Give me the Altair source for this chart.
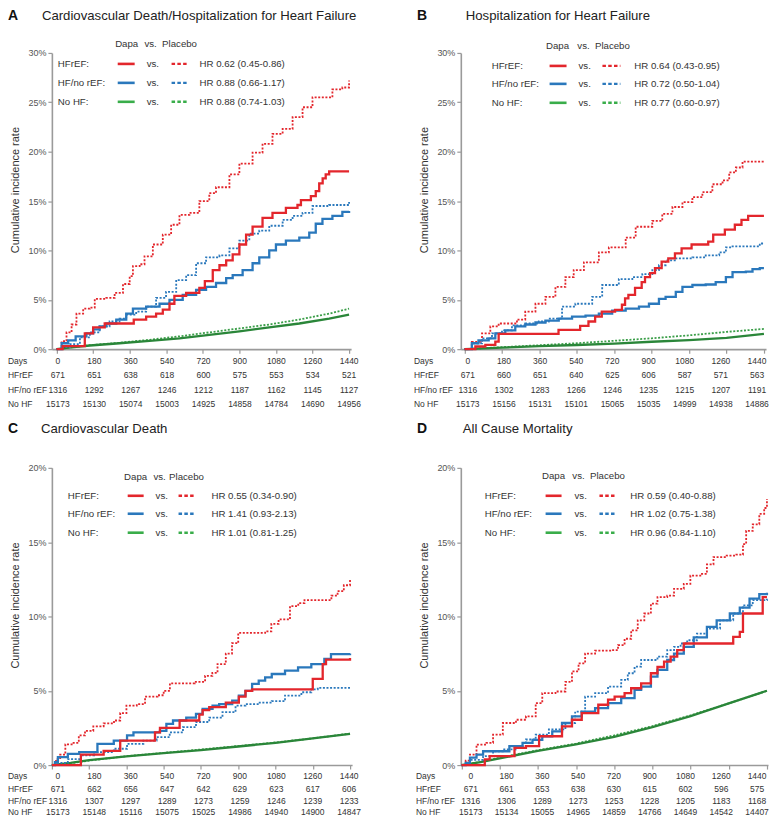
import altair as alt
import pandas as pd

# ---------------- data ----------------
DAY_TICKS = [0, 180, 360, 540, 720, 900, 1080, 1260, 1440]

# Panel A: CV death / hospitalization for HF  (day, cumulative %)
A_HFREF_DAPA = [(0,0),(30,0.3),(139,1.6),(180,2.2),(237,2.6),(380,3.0),(441,3.3),(490,3.6),(523,4.0),(556,4.6),(580,5.4),(638,5.7),(703,6.2),(730,6.9),(769,8.0),(802,8.5),(835,9.0),(867,9.6),(900,10.6),(933,11.6),(965,12.4),(1014,13.3),(1063,13.8),(1129,14.3),(1186,14.6),(1203,15.1),(1252,15.5),(1276,16.0),(1293,16.8),(1310,17.3),(1325,17.7),(1342,18.0),(1440,18.0)]
A_HFREF_PLAC = [(0,0),(25,0.8),(49,1.7),(74,2.5),(98,3.6),(131,4.1),(164,4.2),(188,5.1),(245,5.2),(286,5.7),(327,6.6),(360,7.4),(376,8.4),(409,8.6),(433,9.4),(474,10.6),(523,11.6),(564,12.6),(605,13.6),(654,13.8),(703,15.0),(752,15.8),(785,16.4),(851,17.7),(900,18.8),(965,19.9),(1014,20.8),(1063,21.8),(1113,22.3),(1162,23.5),(1211,24.5),(1260,25.5),(1317,25.5),(1358,26.3),(1407,26.5),(1440,27.2)]
A_HFNO_DAPA = [(0,0),(25,0.6),(57,0.9),(94,1.3),(147,1.6),(180,2.0),(212,2.3),(245,2.6),(294,3.0),(343,3.6),(376,4.1),(441,4.3),(507,4.6),(556,5.0),(621,5.5),(687,6.0),(736,6.3),(785,6.7),(835,7.2),(867,7.5),(916,8.0),(965,8.7),(998,9.3),(1047,10.0),(1080,10.6),(1129,11.0),(1195,11.3),(1244,11.8),(1276,12.7),(1309,13.2),(1358,13.5),(1407,13.9),(1440,14.0)]
A_HFNO_PLAC = [(0,0),(25,0.2),(66,0.5),(115,1.2),(164,1.7),(212,2.3),(261,2.8),(310,3.1),(343,3.5),(392,3.8),(441,4.3),(490,5.2),(539,5.8),(589,7.0),(638,7.5),(687,8.7),(736,9.3),(802,9.5),(851,10.2),(900,11.0),(949,11.7),(998,12.0),(1047,12.5),(1113,13.1),(1162,13.5),(1211,13.8),(1260,14.5),(1342,14.6),(1440,14.9)]
A_NOHF_DAPA = [(0,0),(60,0.15),(164,0.37),(310,0.6),(458,0.84),(605,1.1),(752,1.45),(900,1.8),(1047,2.2),(1195,2.6),(1342,3.1),(1440,3.5)]
A_NOHF_PLAC = [(0,0),(60,0.15),(164,0.4),(310,0.65),(458,0.95),(605,1.3),(752,1.7),(900,2.1),(1047,2.5),(1195,3.0),(1342,3.6),(1440,4.1)]

# Panel B: hospitalization for HF
B_HFREF_DAPA = [(0,0),(52,0.27),(100,0.44),(148,0.77),(164,1.55),(443,1.55),(452,1.95),(556,2.36),(596,2.8),(628,3.3),(660,3.8),(724,3.97),(757,4.5),(772,5.15),(788,5.5),(820,6.2),(852,6.8),(868,7.3),(892,7.7),(916,8.2),(948,8.86),(980,9.2),(1012,9.7),(1044,10.2),(1092,10.6),(1172,10.9),(1196,11.6),(1252,12.1),(1300,12.6),(1332,13.1),(1364,13.5),(1440,13.5)]
B_HFREF_PLAC = [(0,0),(35,0.74),(84,1.6),(124,2.3),(164,2.6),(252,3.0),(292,3.8),(341,4.6),(389,5.3),(437,6.3),(485,7.3),(525,8.0),(574,8.8),(646,9.8),(694,10.3),(775,11.3),(823,12.4),(903,13.0),(951,13.7),(1000,14.4),(1048,14.9),(1096,15.4),(1144,15.9),(1192,16.7),(1241,17.1),(1273,17.9),(1305,18.4),(1337,19.0),(1440,19.0)]
B_HFNO_DAPA = [(0,0),(35,0.6),(67,0.9),(116,1.1),(148,1.6),(196,1.9),(244,2.3),(292,2.5),(341,2.7),(389,2.9),(453,3.1),(517,3.3),(582,3.4),(646,3.6),(710,3.9),(775,4.1),(839,4.3),(887,4.6),(935,5.1),(967,5.3),(1016,5.8),(1048,6.3),(1096,6.5),(1160,6.55),(1208,6.8),(1257,7.3),(1289,7.8),(1353,7.85),(1385,8.1),(1420,8.2),(1440,8.2)]
B_HFNO_PLAC = [(0,0),(35,0.6),(84,1.1),(132,1.6),(180,1.9),(228,2.4),(292,2.6),(357,2.8),(405,3.1),(469,4.3),(533,4.6),(614,5.3),(662,6.5),(742,7.1),(807,7.3),(855,7.6),(903,8.0),(935,8.5),(967,9.0),(1016,9.2),(1096,9.3),(1160,9.5),(1225,9.8),(1257,10.3),(1289,10.4),(1420,10.7),(1440,10.7)]
B_NOHF_DAPA = [(0,0),(180,0.15),(360,0.3),(540,0.42),(720,0.57),(900,0.75),(1080,0.92),(1260,1.15),(1440,1.55)]
B_NOHF_PLAC = [(0,0),(180,0.2),(360,0.4),(540,0.6),(720,0.85),(900,1.1),(1080,1.4),(1260,1.75),(1440,2.05)]

# Panel C: cardiovascular death
C_HFREF_DAPA = [(0,0),(140,0.7),(250,0.95),(330,1.65),(498,2.2),(522,2.5),(617,3.0),(712,3.4),(728,3.7),(760,3.9),(840,4.2),(903,4.6),(935,5.0),(967,5.1),(1260,5.8),(1308,6.8),(1324,7.1),(1440,7.2)]
C_HFREF_PLAC = [(0,0),(20,0.4),(40,0.7),(65,1.4),(100,1.5),(130,2.0),(160,2.3),(200,2.6),(250,2.8),(300,3.0),(330,3.5),(360,4.0),(410,4.1),(450,4.6),(510,4.7),(540,5.0),(570,5.5),(690,5.6),(740,6.0),(775,6.2),(800,6.8),(840,7.5),(870,8.2),(900,8.9),(1030,9.0),(1060,9.5),(1095,9.8),(1150,10.7),(1190,10.9),(1220,11.1),(1330,11.1),(1350,11.4),(1380,11.7),(1410,12.1),(1440,12.5)]
C_HFNO_DAPA = [(0,0),(15,0.2),(29,0.54),(77,0.76),(132,0.87),(220,1.43),(299,1.65),(363,2.0),(394,2.2),(522,2.3),(553,2.77),(585,3.0),(649,3.2),(696,3.45),(728,3.78),(776,4.0),(808,4.1),(871,4.34),(903,4.68),(935,5.0),(967,5.46),(999,5.68),(1030,5.9),(1062,6.13),(1126,6.35),(1189,6.58),(1253,6.8),(1316,7.14),(1348,7.47),(1440,7.5)]
C_HFNO_PLAC = [(0,0),(20,0.15),(77,0.4),(140,0.65),(204,0.87),(299,1.1),(363,1.43),(442,1.65),(506,1.88),(569,2.2),(633,2.55),(696,2.9),(760,3.2),(824,3.56),(887,4.0),(935,4.1),(999,4.2),(1062,4.3),(1126,4.68),(1205,4.9),(1253,5.1),(1284,5.2),(1440,5.2)]
C_NOHF_DAPA = [(0,0),(90,0.15),(180,0.33),(360,0.58),(540,0.8),(720,1.0),(900,1.25),(1080,1.5),(1260,1.8),(1440,2.1)]
C_NOHF_PLAC = [(0,0),(90,0.12),(180,0.3),(360,0.6),(540,0.82),(720,1.05),(900,1.28),(1080,1.52),(1260,1.8),(1440,2.12)]

# Panel D: all cause mortality
D_HFREF_DAPA = [(0,0),(110,0.38),(133,0.6),(250,1.16),(304,1.27),(366,1.94),(474,2.6),(521,3.05),(567,3.5),(645,4.06),(691,4.4),(722,4.6),(769,4.84),(800,5.17),(847,5.5),(893,6.18),(924,6.6),(955,6.96),(986,7.3),(1017,7.74),(1048,8.18),(1281,8.63),(1312,8.96),(1327,10.2),(1420,11.3),(1440,11.3)]
D_HFREF_PLAC = [(0,0),(20,0.3),(40,0.7),(71,1.38),(118,1.5),(149,2.05),(195,2.83),(257,3.05),(304,3.28),(350,4.17),(381,4.84),(443,4.95),(490,5.6),(521,6.3),(552,6.85),(583,7.5),(630,7.7),(707,7.74),(738,8.07),(769,8.5),(800,9.07),(831,9.74),(862,10.2),(893,10.86),(924,11.3),(970,11.4),(1002,11.86),(1048,12.2),(1079,12.75),(1126,12.87),(1157,13.5),(1188,14.0),(1250,14.1),(1296,14.16),(1327,14.87),(1342,15.76),(1373,16.2),(1404,16.9),(1427,17.3),(1440,17.9)]
D_HFNO_DAPA = [(0,0),(20,0.15),(40,0.5),(71,0.7),(102,0.93),(226,1.27),(288,1.5),(335,1.7),(381,1.94),(428,2.27),(474,2.83),(521,3.28),(567,3.6),(630,3.83),(691,4.17),(753,4.5),(816,5.06),(847,5.28),(893,5.95),(924,6.4),(970,7.07),(1002,7.5),(1048,7.96),(1095,8.6),(1157,9.3),(1203,9.74),(1265,10.2),(1312,10.6),(1358,11.2),(1404,11.5),(1440,11.6)]
D_HFNO_PLAC = [(0,0),(40,0.35),(102,0.6),(149,0.93),(195,1.05),(257,1.27),(304,1.72),(350,2.05),(412,2.4),(490,2.83),(536,3.6),(583,4.6),(630,4.84),(691,5.28),(753,5.73),(784,6.18),(816,6.62),(847,7.07),(924,7.3),(970,7.74),(1002,7.96),(1033,8.18),(1064,8.4),(1110,8.85),(1157,9.19),(1219,9.74),(1281,10.2),(1327,10.75),(1373,11.1),(1440,11.2)]
D_NOHF_DAPA = [(0,0),(90,0.2),(180,0.45),(360,0.95),(540,1.4),(720,1.9),(900,2.55),(1080,3.3),(1260,4.15),(1440,5.0)]
D_NOHF_PLAC = [(0,0),(90,0.22),(180,0.5),(360,1.0),(540,1.45),(720,2.0),(900,2.62),(1080,3.35),(1260,4.15),(1440,5.0)]

# numbers at risk
A_RISK_HFREF = ["671","651","638","618","600","575","553","534","521"]
A_RISK_HFNO = ["1316","1292","1267","1246","1212","1187","1162","1145","1127"]
A_RISK_NOHF = ["15173","15130","15074","15003","14925","14858","14784","14690","14956"]
B_RISK_HFREF = ["671","660","651","640","625","606","587","571","563"]
B_RISK_HFNO = ["1316","1302","1283","1266","1246","1235","1215","1207","1191"]
B_RISK_NOHF = ["15173","15156","15131","15101","15065","15035","14999","14938","14886"]
C_RISK_HFREF = ["671","662","656","647","642","629","623","617","606"]
C_RISK_HFNO = ["1316","1307","1297","1289","1273","1259","1246","1239","1233"]
C_RISK_NOHF = ["15173","15148","15116","15075","15025","14986","14940","14900","14847"]
D_RISK_HFREF = ["671","661","653","638","630","615","602","596","575"]
D_RISK_HFNO = ["1316","1306","1289","1273","1253","1228","1205","1183","1168"]
D_RISK_NOHF = ["15173","15134","15055","14965","14859","14766","14649","14542","14407"]

TITLES = {"A": "Cardiovascular Death/Hospitalization for Heart Failure",
          "B": "Hospitalization for Heart Failure",
          "C": "Cardiovascular Death",
          "D": "All Cause Mortality"}
HR_TEXT = {"A": ["HR 0.62 (0.45-0.86)", "HR 0.88 (0.66-1.17)", "HR 0.88 (0.74-1.03)"],
           "B": ["HR 0.64 (0.43-0.95)", "HR 0.72 (0.50-1.04)", "HR 0.77 (0.60-0.97)"],
           "C": ["HR 0.55 (0.34-0.90)", "HR 1.41 (0.93-2.13)", "HR 1.01 (0.81-1.25)"],
           "D": ["HR 0.59 (0.40-0.88)", "HR 1.02 (0.75-1.38)", "HR 0.96 (0.84-1.10)"]}
GROUPS = ["HFrEF:", "HF/no rEF:", "No HF:"]
ROW_LABELS = ["Days", "HFrEF", "HF/no rEF", "No HF"]

CURVES = {
    "A": [A_HFREF_DAPA, A_HFREF_PLAC, A_HFNO_DAPA, A_HFNO_PLAC, A_NOHF_DAPA, A_NOHF_PLAC],
    "B": [B_HFREF_DAPA, B_HFREF_PLAC, B_HFNO_DAPA, B_HFNO_PLAC, B_NOHF_DAPA, B_NOHF_PLAC],
    "C": [C_HFREF_DAPA, C_HFREF_PLAC, C_HFNO_DAPA, C_HFNO_PLAC, C_NOHF_DAPA, C_NOHF_PLAC],
    "D": [D_HFREF_DAPA, D_HFREF_PLAC, D_HFNO_DAPA, D_HFNO_PLAC, D_NOHF_DAPA, D_NOHF_PLAC],
}
RISK = {
    "A": [A_RISK_HFREF, A_RISK_HFNO, A_RISK_NOHF],
    "B": [B_RISK_HFREF, B_RISK_HFNO, B_RISK_NOHF],
    "C": [C_RISK_HFREF, C_RISK_HFNO, C_RISK_NOHF],
    "D": [D_RISK_HFREF, D_RISK_HFNO, D_RISK_NOHF],
}

# ---------------- styles / layout ----------------
SANS = "Liberation Sans, Arial, Helvetica, sans-serif"
RED = "#e3262c"
BLUE = "#2a78bc"
GREEN = "#2a8639"
GREEN_PLAC = "#3a9e48"
GREEN_LEG = "#39ad4a"
TXT = "#333333"
TABLE_FS = 8.5

LAYOUT = {
    "A": dict(w=300, h=297, ymax=30, xdom=[-23, 1450], tdom=[-29.6, 1449.7], title_x=-10, title_y=-33,
              lab_x=-44, hy=-9, ry=[11, 30, 49], lab=6, s=(66, 83), vs=95, d=(120, 137), hr=148,
              hd=(75, 99, 128), trow=[12, 26, 41, 55]),
    "B": dict(w=306, h=297, ymax=30, xdom=[-18, 1450], tdom=[-34.8, 1484.7], title_x=5, title_y=-33,
              lab_x=-47, hy=-7, ry=[13, 31, 50], lab=31, s=(89, 106), vs=118, d=(142, 160), hr=174,
              hd=(97, 123, 152), trow=[12, 26, 41, 55]),
    "C": dict(w=301, h=298, ymax=20, xdom=[0, 1450], tdom=[-29.6, 1454.6], title_x=-11, title_y=-35,
              lab_x=-44, hy=9, ry=[28, 46, 65], lab=16, s=(76, 92), vs=104, d=(127, 143), hr=160,
              hd=(84, 108, 135), trow=[11, 24, 36, 47]),
    "D": dict(w=308, h=298, ymax=20, xdom=[-3, 1445], tdom=[-50.2, 1495.1], title_x=2, title_y=-35,
              lab_x=-45, hy=8, ry=[28, 46, 65], lab=24, s=(85, 101), vs=114, d=(139, 156), hr=170,
              hd=(93, 118, 147), trow=[11, 24, 36, 47]),
}

ONE = pd.DataFrame({"k": [0]})


def text_layer(s, x, y, size=9.7, align="left", weight="normal", color=TXT, font=SANS,
               baseline="middle", angle=None):
    kw = dict(text=s, align=align, baseline=baseline, fontSize=size, fontWeight=weight,
              color=color, font=font)
    if angle is not None:
        kw["angle"] = angle
    return alt.Chart(ONE).mark_text(**kw).encode(x=alt.value(x), y=alt.value(y))


def rule_layer(x1, x2, y, color, width, dash=None):
    kw = dict(color=color, strokeWidth=width)
    if dash is not None:
        kw["strokeDash"] = dash
    return alt.Chart(ONE).mark_rule(**kw).encode(x=alt.value(x1), x2=alt.value(x2), y=alt.value(y))


def panel(key):
    L = LAYOUT[key]
    w, h = L["w"], L["h"]
    xscale = alt.Scale(domain=L["xdom"], nice=False, zero=False)
    yscale = alt.Scale(domain=[0, L["ymax"]], nice=False, zero=True)
    xaxis = alt.Axis(values=DAY_TICKS, labels=False, tickSize=4, title=None, grid=False)
    yaxis = alt.Axis(values=list(range(0, L["ymax"] + 1, 5)), labelExpr="datum.value + '%'",
                     tickSize=4, labelPadding=2, title=None, grid=False)

    c = CURVES[key]
    series = [
        (c[5], GREEN_PLAC, True, "linear"),
        (c[4], GREEN, False, "linear"),
        (c[3], BLUE, True, "step-after"),
        (c[1], RED, True, "step-after"),
        (c[2], BLUE, False, "step-after"),
        (c[0], RED, False, "step-after"),
    ]
    curve_layers = []
    for pts, col, plac, interp in series:
        df = pd.DataFrame(pts, columns=["day", "pct"])
        kw = dict(interpolate=interp, color=col, strokeWidth=1.8 if plac else 2.3)
        if plac:
            kw["strokeDash"] = [2, 1.6]
        curve_layers.append(
            alt.Chart(df).mark_line(**kw).encode(
                x=alt.X("day:Q", scale=xscale, axis=xaxis),
                y=alt.Y("pct:Q", scale=yscale, axis=yaxis),
            )
        )
    layers = [alt.layer(*curve_layers)]

    # risk table
    tscale = alt.Scale(domain=L["tdom"], nice=False, zero=False)
    rows = [[str(d) for d in DAY_TICKS]] + RISK[key]
    for i, vals in enumerate(rows):
        df = pd.DataFrame({"day": DAY_TICKS, "n": vals})
        layers.append(
            alt.Chart(df).mark_text(font=SANS, fontSize=TABLE_FS, color=TXT, align="center",
                                    baseline="middle").encode(
                x=alt.X("day:Q", scale=tscale, axis=None),
                y=alt.value(h + L["trow"][i]),
                text="n:N",
            )
        )
        layers.append(text_layer(ROW_LABELS[i], L["lab_x"], h + L["trow"][i], size=TABLE_FS))

    # panel letter and title
    layers.append(text_layer(key, -44, L["title_y"], size=14, weight="bold", color="#111",
                             baseline="alphabetic"))
    layers.append(text_layer(TITLES[key], L["title_x"], L["title_y"], size=13.2, color="#222",
                             baseline="alphabetic"))
    # y-axis title
    layers.append(text_layer("Cumulative incidence rate", -36, h / 2 - 11, size=11, align="center",
                             color=TXT, angle=270))

    # in-plot legend
    hx = L["hd"]
    layers.append(text_layer("Dapa", hx[0], L["hy"], align="center"))
    layers.append(text_layer("vs.", hx[1], L["hy"], align="center"))
    layers.append(text_layer("Placebo", hx[2], L["hy"], align="center"))
    for i, col in enumerate([RED, BLUE, GREEN_LEG]):
        y = L["ry"][i]
        layers.append(text_layer(GROUPS[i], L["lab"], y))
        layers.append(rule_layer(L["s"][0], L["s"][1], y, col, 2.6))
        layers.append(text_layer("vs.", L["vs"], y))
        layers.append(rule_layer(L["d"][0], L["d"][1], y, col, 2.4, dash=[3.5, 2.3]))
        layers.append(text_layer(HR_TEXT[key][i], L["hr"], y))

    return alt.layer(*layers).resolve_scale(x="independent").properties(width=w, height=h)


chart = alt.concat(
    panel("A"), panel("B"), panel("C"), panel("D"),
    columns=2,
    spacing={"row": 119, "column": 109},
    bounds="flush",
).properties(
    padding=0,
    background="white",
).configure_view(
    stroke=None
).configure_axis(
    domainColor="#9a9a9a",
    domainWidth=1.6,
    tickColor="#9a9a9a",
    tickWidth=1.2,
    labelColor="#555555",
    labelFont=SANS,
    labelFontSize=9,
    grid=False,
)

chart.save("out.html", embed_options={"renderer": "svg", "actions": False})
